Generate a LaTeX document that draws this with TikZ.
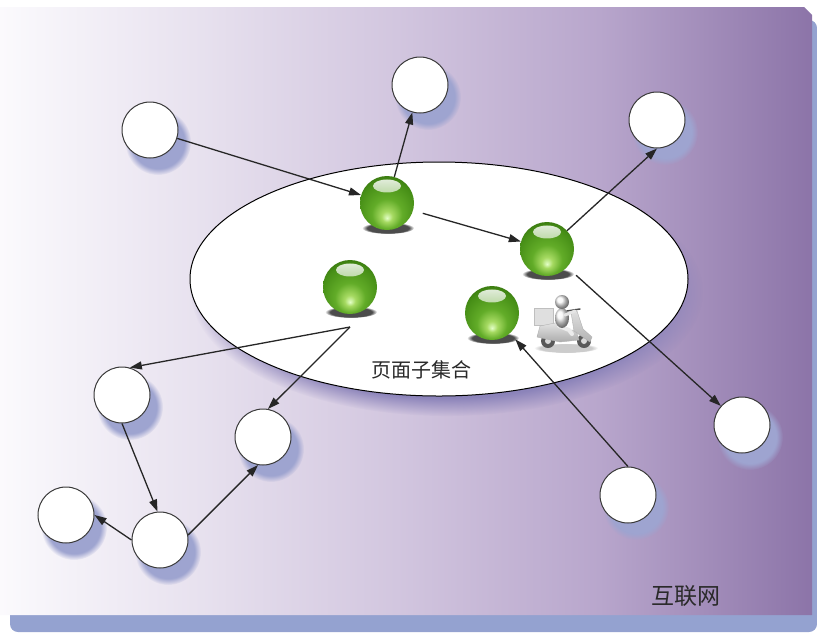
\documentclass[tikz,border=0pt]{standalone}
\usepackage{fontspec}
\newfontfamily\cjk{Noto Sans CJK SC}
\usetikzlibrary{arrows.meta,fadings,shapes.geometric}

\definecolor{panelA}{HTML}{FBFAFD}
\definecolor{panelB}{HTML}{E8E2EF}
\definecolor{panelC}{HTML}{D2C6DF}
\definecolor{panelD}{HTML}{B8A6CC}
\definecolor{panelE}{HTML}{8C74A8}
\definecolor{panelShadow}{HTML}{94A2D0}
\definecolor{ringShadow}{HTML}{9EA4D0}
\definecolor{setShadow}{HTML}{8C84BA}
\definecolor{ringLine}{HTML}{3A3A3A}
\definecolor{inkText}{HTML}{2A2A2A}
\definecolor{gBright}{HTML}{E4FFC8}
\definecolor{gLight}{HTML}{A6DA62}
\definecolor{gMid}{HTML}{62AC28}
\definecolor{gDeep}{HTML}{468E16}
\definecolor{gEdge}{HTML}{285A08}

% soft white-to-violet wash of the backdrop
\pgfdeclarehorizontalshading{panelshade}{100bp}{%
  color(0bp)=(panelA); color(25bp)=(panelA); color(36.9bp)=(panelB);
  color(49.4bp)=(panelC); color(61.9bp)=(panelD); color(75bp)=(panelE);
  color(100bp)=(panelE)}
% glassy green marble, lit from below
\pgfdeclareradialshading{glassball}{\pgfpoint{0bp}{-14bp}}{%
  color(0bp)=(gBright); color(5bp)=(gLight); color(14bp)=(gMid);
  color(27bp)=(gDeep); color(38bp)=(gEdge); color(50bp)=(gEdge)}
\tikzfading[name=glint, top color=transparent!10, bottom color=transparent!100]

\tikzset{
  page/.style={circle, minimum size=56pt, inner sep=0pt, fill=white,
    draw=ringLine, line width=1pt},
  hit/.style={circle, minimum size=54pt, inner sep=0pt, shading=glassball,
    path picture={
      \fill[white, path fading=glint]
        ([yshift=17pt]path picture bounding box.center) ellipse (14pt and 6.5pt);
    }},
  link/.style={line width=1.3pt, draw=black!85,
    -{Triangle[length=12pt,width=8pt]}},
  ringshade/.style={fill=ringShadow, path fading=circle with fuzzy edge 20 percent},
  ballshade/.style={fill=black, opacity=.7,
    path fading=circle with fuzzy edge 20 percent},
  label/.style={text=inkText, inner sep=0pt},
}

\begin{document}
\begin{tikzpicture}[x=1pt, y=-1pt]
  \useasboundingbox (0,0) rectangle (817,633);

  % backdrop with its drop shadow
  \fill[panelShadow, rounded corners=8pt] (10,20) rectangle (817,632);
  \path[shading=panelshade]
    (0,7) -- (804,7) -- (812,15) -- (812,615) -- (0,615) -- cycle;

  % the crawled subset
  \fill[setShadow, path fading=circle with fuzzy edge 15 percent]
    (447,292) ellipse (256pt and 124pt);
  \node[ellipse, minimum width=498pt, minimum height=234pt, inner sep=0pt,
    fill=white, draw=black, line width=1pt] (subset) at (439,279) {};

  % shadows under the pages
  \foreach \x/\y in {150/130, 420/85, 657/120, 122/395, 263/437,
                     66/515, 160/540, 742/425, 628/495}
    \fill[ringshade] (\x+8,\y+12) circle (33pt);
  \foreach \x/\y in {387/203, 547/249, 350/287, 492/313}
    \fill[ballshade] (\x+1,\y+25) ellipse (26pt and 6pt);

  % pages on the web
  \foreach \n/\x/\y in {A/150/130, B/420/85, C/657/120, D/122/395, E/263/437,
                        F/66/515, G/160/540, H/742/425, I/628/495}
    \node[page] (\n) at (\x,\y) {};

  % pages already fetched
  \node[hit] (b1) at (387,203) {};
  \node[hit] (b2) at (547,249) {};
  \node[hit] (b3) at (350,287) {};
  \node[hit] (b4) at (492,313) {};

  % delivery scooter
  \fill[gray!40, path fading=circle with fuzzy edge 20 percent]
    (566,348) ellipse (32pt and 5pt);
  \fill[gray!25, draw=gray!50, line width=.4pt] (534,308) rectangle (553,325);
  \fill[gray!70!black] (548,341) circle (7pt);
  \fill[gray!30] (548,341) circle (3pt);
  \fill[gray!70!black] (584,341) circle (7pt);
  \fill[gray!30] (584,341) circle (3pt);
  \shade[top color=gray!20, bottom color=gray!65, draw=gray!60, line width=.4pt]
    (537,337) -- (540,326) -- (560,322) -- (567,330) -- (576,330)
    -- (579,340) -- (560,342) -- cycle;
  \shade[top color=gray!25, bottom color=gray!60, draw=gray!60, line width=.4pt]
    (574,331) -- (571,312) -- (577,311) -- (583,329) -- (592,337)
    -- (590,342) -- cycle;
  \draw[gray!60!black, line width=1.5pt, line cap=round] (567,311) -- (580,309);
  \draw[gray!15, line width=4pt, line cap=round] (559,326) -- (569,330) -- (572,334);
  \shade[ball color=gray!8] (562,318) ellipse (7pt and 10pt);
  \draw[gray!20, line width=3pt, line cap=round] (565,315) -- (575,311);
  \shade[ball color=gray!8] (562,302) circle (7pt);

  % links between pages
  \coordinate (fork) at (350,327);
  \draw[link] (A) -- (b1);
  \draw[link] (b1) -- (B);
  \draw[link, shorten <=10pt] (b1) -- (b2);
  \draw[link] (b2) -- (C.south);
  \draw[link, shorten <=12pt] (b2) -- (H);
  \draw[link, shorten >=8pt] (I.north) -- (b4);
  \draw[link] (fork) -- (D.74);
  \draw[link] (fork) -- (E.80);
  \draw[link] (D.south) -- (G.95);
  \draw[link] (G.west) -- (F.east);
  \draw[link] (G.10) -- (E.-100);

  % captions
  \node[label, font=\cjk\fontsize{20pt}{20pt}\selectfont] (subsetname)
    at (421,370) {页面子集合};
  \node[label, font=\cjk\fontsize{23pt}{23pt}\selectfont] (webname)
    at (686,596) {互联网};
\end{tikzpicture}
\end{document}
